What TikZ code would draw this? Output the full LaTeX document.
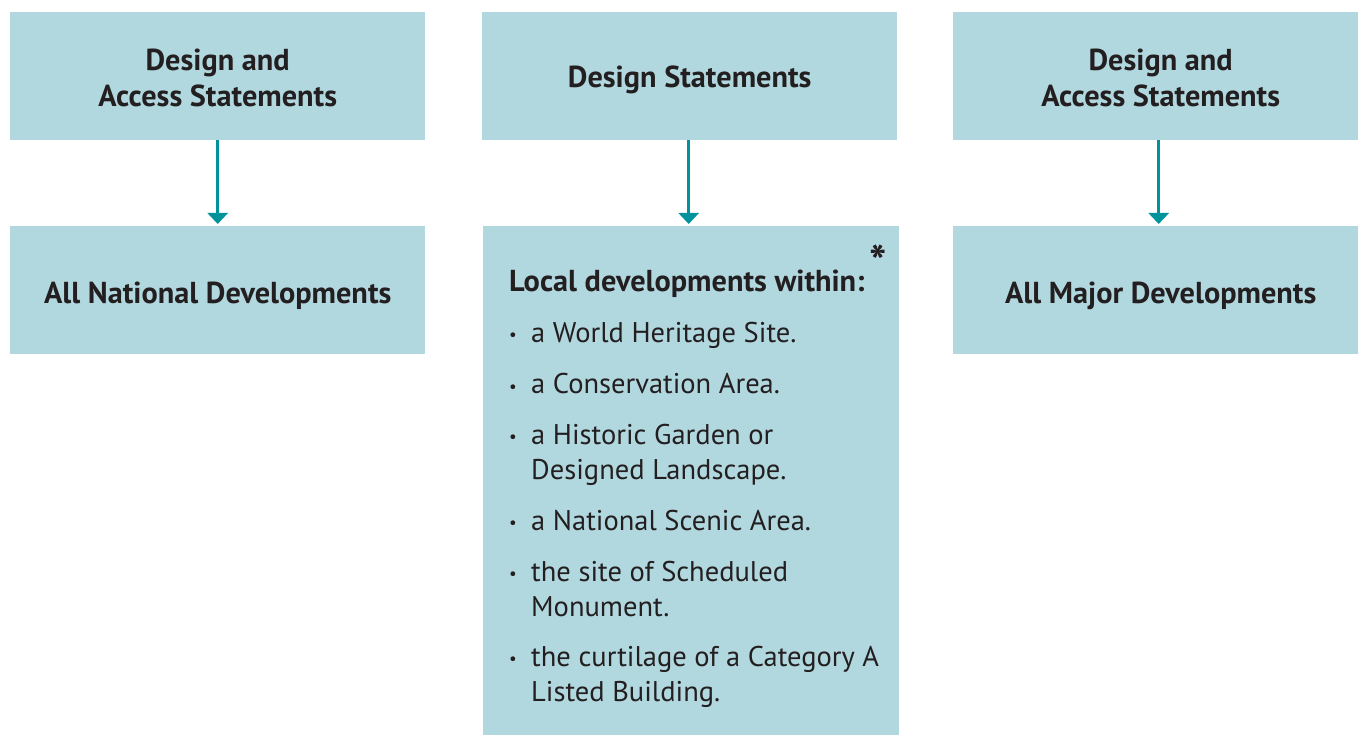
\documentclass[tikz,border=0pt]{standalone}
\usepackage{fontspec}
\setmainfont{PT Sans}
\usetikzlibrary{arrows.meta}
\definecolor{boxfill}{HTML}{B2D8DF}
\definecolor{arrowc}{HTML}{00939B}
\definecolor{txt}{HTML}{231F20}
\begin{document}
\begin{tikzpicture}[x=1pt,y=-1pt,
  box/.style={fill=boxfill,draw=none,anchor=north west,inner sep=0pt},
  btext/.style={anchor=center,inner sep=0pt,text=txt,font=\fontsize{30.3}{36}\selectfont\bfseries,align=center},
  conn/.style={draw=arrowc,line width=3pt,-{Triangle[width=20pt,length=11pt]},shorten >=2pt},
  item/.style={anchor=base west,inner sep=0pt,text=txt,font=\fontsize{28.5}{35}\selectfont},
  bul/.style={anchor=base west,inner sep=0pt,text=txt,font=\fontsize{17}{20}\selectfont},
  head/.style={anchor=base west,inner sep=0pt,text=txt,font=\fontsize{30.3}{35}\selectfont\bfseries}]
\useasboundingbox (0,0) rectangle (1358,735);
\clip (0,0) rectangle (1358,735);
\node[box,minimum width=415pt,minimum height=128pt] (t1) at (10,12) {};
\node[box,minimum width=415pt,minimum height=128pt] (t2) at (482,12) {};
\node[box,minimum width=415pt,minimum height=128pt] (t3) at (953,12) {};
\node[box,minimum width=415pt,minimum height=128pt] (b1) at (10,226) {};
\node[box,minimum width=416pt,minimum height=509pt] (b2) at (483,226) {};
\node[box,minimum width=415pt,minimum height=128pt] (b3) at (953,226) {};
\node[btext] (t1t) at ([yshift=-2pt]t1.center) {Design and\\Access Statements};
\node[btext] (t2t) at ([yshift=-4pt]t2.center) {Design Statements};
\node[btext] (t3t) at ([yshift=-2pt]t3.center) {Design and\\Access Statements};
\node[btext] (b1t) at ([yshift=-6pt]b1.center) {All National Developments};
\node[btext] (b3t) at ([yshift=-6pt]b3.center) {All Major Developments};
\draw[conn] (t1.south) -- (b1.north);
\draw[conn] ([xshift=-1pt]t2.south) -- ([xshift=-1pt]t2.south |- b2.north);
\draw[conn] ([xshift=-2pt]t3.south) -- ([xshift=-2pt]b3.north);
\node[anchor=base,inner sep=0pt,text=txt,font=\fontsize{46}{46}\selectfont\bfseries] (ast) at (878,279) {*};
\node[head] (h) at (509,292) {Local developments within:};
\foreach \y/\name/\t in {343/i1/a World Heritage Site.,394/i2/a Conservation Area.,444/i3/a Historic Garden or,530/i4/a National Scenic Area.,581/i5/the site of Scheduled,666/i6/the curtilage of a Category A}{
  \node[bul] (\name b) at (509,\y-2) {•};
  \node[item] (\name) at (531,\y) {\t};
}
\node[item] (i3b) at (531,479) {Designed Landscape.};
\node[item] (i5b) at (531,616) {Monument.};
\node[item] (i6b) at (531,701) {Listed Building.};
\end{tikzpicture}
\end{document}
